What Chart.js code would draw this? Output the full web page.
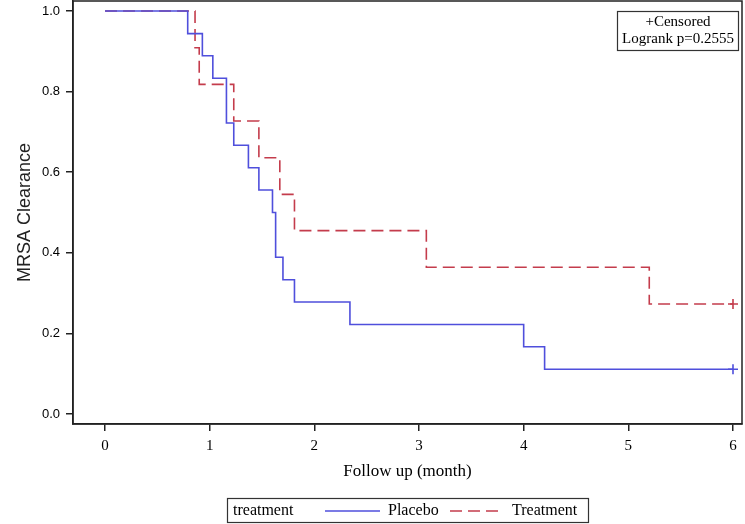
<!DOCTYPE html>
<html lang="en">
<head>
    <meta charset="UTF-8">
    <title>MRSA Clearance</title>
    <style>
        html, body { margin: 0; padding: 0; background: #fff; }
        #wrap { width: 745px; height: 524px; }
    </style>
    <script src="https://cdn.jsdelivr.net/npm/chart.js@4.4.0/dist/chart.umd.min.js"></script>
</head>
<body>
    <div id="wrap"><canvas id="km" width="745" height="524"></canvas></div>
    <script>
        // Kaplan-Meier steps (time in months, survival)
        const placeboTimes = [0, 0.79, 0.93, 1.03, 1.16, 1.23, 1.37, 1.47, 1.60, 1.63, 1.70, 1.81, 2.34, 4.00, 4.20, 6.0];
        const placeboSurv = [1, 0.944, 0.889, 0.833, 0.722, 0.667, 0.611, 0.556, 0.5, 0.389, 0.333, 0.278, 0.222, 0.167, 0.111, 0.111];
        const treatTimes = [0, 0.86, 0.90, 1.23, 1.47, 1.67, 1.81, 3.07, 5.20, 6.0];
        const treatSurv = [1, 0.909, 0.818, 0.727, 0.636, 0.545, 0.455, 0.364, 0.273, 0.273];
        const censorTimes = [6.0, 6.0];
        const censorSurv = [0.111, 0.273];
        const xTicks = [0, 1, 2, 3, 4, 5, 6];
        const yTicks = [0, 0.2, 0.4, 0.6, 0.8, 1.0];
        const seriesNames = ['Placebo', 'Treatment'];
        const legendTitle = 'treatment';
        const insetLines = ['+Censored', 'Logrank p=0.2555'];

        const blue = '#4f4fdc';
        const red = '#c43c4c';
        const axisColor = '#222';

        function pts(xs, ys) {
            return xs.map((x, i) => ({x: x, y: ys[i]}));
        }

        // frame around the plot area + inset box + bottom legend
        const decor = {
            id: 'decor',
            afterDraw(chart) {
                const ctx = chart.ctx;
                const a = chart.chartArea;
                ctx.save();
                ctx.strokeStyle = axisColor;
                ctx.lineWidth = 1.5;
                ctx.strokeRect(a.left, a.top, a.right - a.left, a.bottom - a.top);

                // inset box
                ctx.lineWidth = 1.2;
                ctx.strokeStyle = '#333';
                ctx.strokeRect(617.5, 11.5, 121, 39);
                ctx.fillStyle = '#000';
                ctx.font = '15px "Liberation Serif"';
                ctx.textAlign = 'center';
                ctx.textBaseline = 'middle';
                ctx.fillText(insetLines[0], 678, 22);
                ctx.fillText(insetLines[1], 678, 39);

                // legend
                ctx.strokeRect(227.5, 498.5, 361, 24);
                ctx.textAlign = 'left';
                ctx.font = '16px "Liberation Serif"';
                const ly = 511;
                ctx.fillText(legendTitle, 233, ly);
                const items = [
                    {ds: chart.data.datasets[0], x0: 325, x1: 380, tx: 388},
                    {ds: chart.data.datasets[1], x0: 450, x1: 503, tx: 512}
                ];
                items.forEach(it => {
                    ctx.save();
                    ctx.strokeStyle = it.ds.borderColor;
                    ctx.lineWidth = it.ds.borderWidth;
                    ctx.setLineDash(it.ds.borderDash || []);
                    ctx.beginPath();
                    ctx.moveTo(it.x0, ly);
                    ctx.lineTo(it.x1, ly);
                    ctx.stroke();
                    ctx.restore();
                    ctx.fillText(it.ds.label, it.tx, ly);
                });
                ctx.restore();
            }
        };

        new Chart(document.getElementById('km').getContext('2d'), {
            type: 'scatter',
            data: {
                datasets: [{
                    label: seriesNames[0],
                    data: pts(placeboTimes, placeboSurv),
                    showLine: true,
                    stepped: 'before',
                    borderColor: blue,
                    borderWidth: 1.6,
                    pointRadius: 0
                }, {
                    label: seriesNames[1],
                    data: pts(treatTimes, treatSurv),
                    showLine: true,
                    stepped: 'before',
                    borderColor: red,
                    borderWidth: 1.6,
                    borderDash: [12, 6],
                    pointRadius: 0
                }, {
                    label: 'Censored',
                    data: pts(censorTimes, censorSurv),
                    showLine: false,
                    pointStyle: 'cross',
                    pointRadius: 5,
                    borderWidth: 1.6,
                    borderColor: [blue, red]
                }]
            },
            options: {
                responsive: false,
                animation: false,
                layout: {autoPadding: false, padding: {top: 1, right: 3, left: 0, bottom: 0}},
                plugins: {
                    legend: {display: false},
                    tooltip: {enabled: false}
                },
                scales: {
                    x: {
                        type: 'linear',
                        min: -0.306,
                        max: 6.086,
                        afterBuildTicks: s => { s.ticks = xTicks.map(v => ({value: v})); },
                        afterFit: s => { s.height = 100; s.paddingLeft = 0; s.paddingRight = 0; },
                        grid: {drawOnChartArea: false, drawTicks: true, tickLength: 7, color: axisColor, lineWidth: 1.5},
                        border: {display: true, color: axisColor, width: 1.5},
                        ticks: {
                            color: '#000',
                            padding: 6,
                            font: {family: 'Liberation Serif', size: 15},
                            maxRotation: 0
                        },
                        title: {
                            display: true,
                            text: 'Follow up (month)',
                            color: '#000',
                            font: {family: 'Liberation Serif', size: 17},
                            padding: {top: 0, bottom: 42}
                        }
                    },
                    y: {
                        type: 'linear',
                        min: -0.0249,
                        max: 1.0249,
                        afterBuildTicks: s => { s.ticks = yTicks.map(v => ({value: v})); },
                        afterFit: s => { s.width = 73; s.paddingTop = 0; s.paddingBottom = 0; },
                        grid: {drawOnChartArea: false, drawTicks: true, tickLength: 7, color: axisColor, lineWidth: 1.5},
                        border: {display: true, color: axisColor, width: 1.5},
                        ticks: {
                            color: '#000',
                            padding: 6,
                            font: {family: 'Liberation Sans', size: 13},
                            callback: v => v.toFixed(1)
                        },
                        title: {
                            display: true,
                            text: 'MRSA Clearance',
                            color: '#222',
                            font: {family: 'Liberation Sans', size: 18},
                            padding: {top: 14, bottom: 0}
                        }
                    }
                }
            },
            plugins: [decor]
        });
    </script>
</body>
</html>
